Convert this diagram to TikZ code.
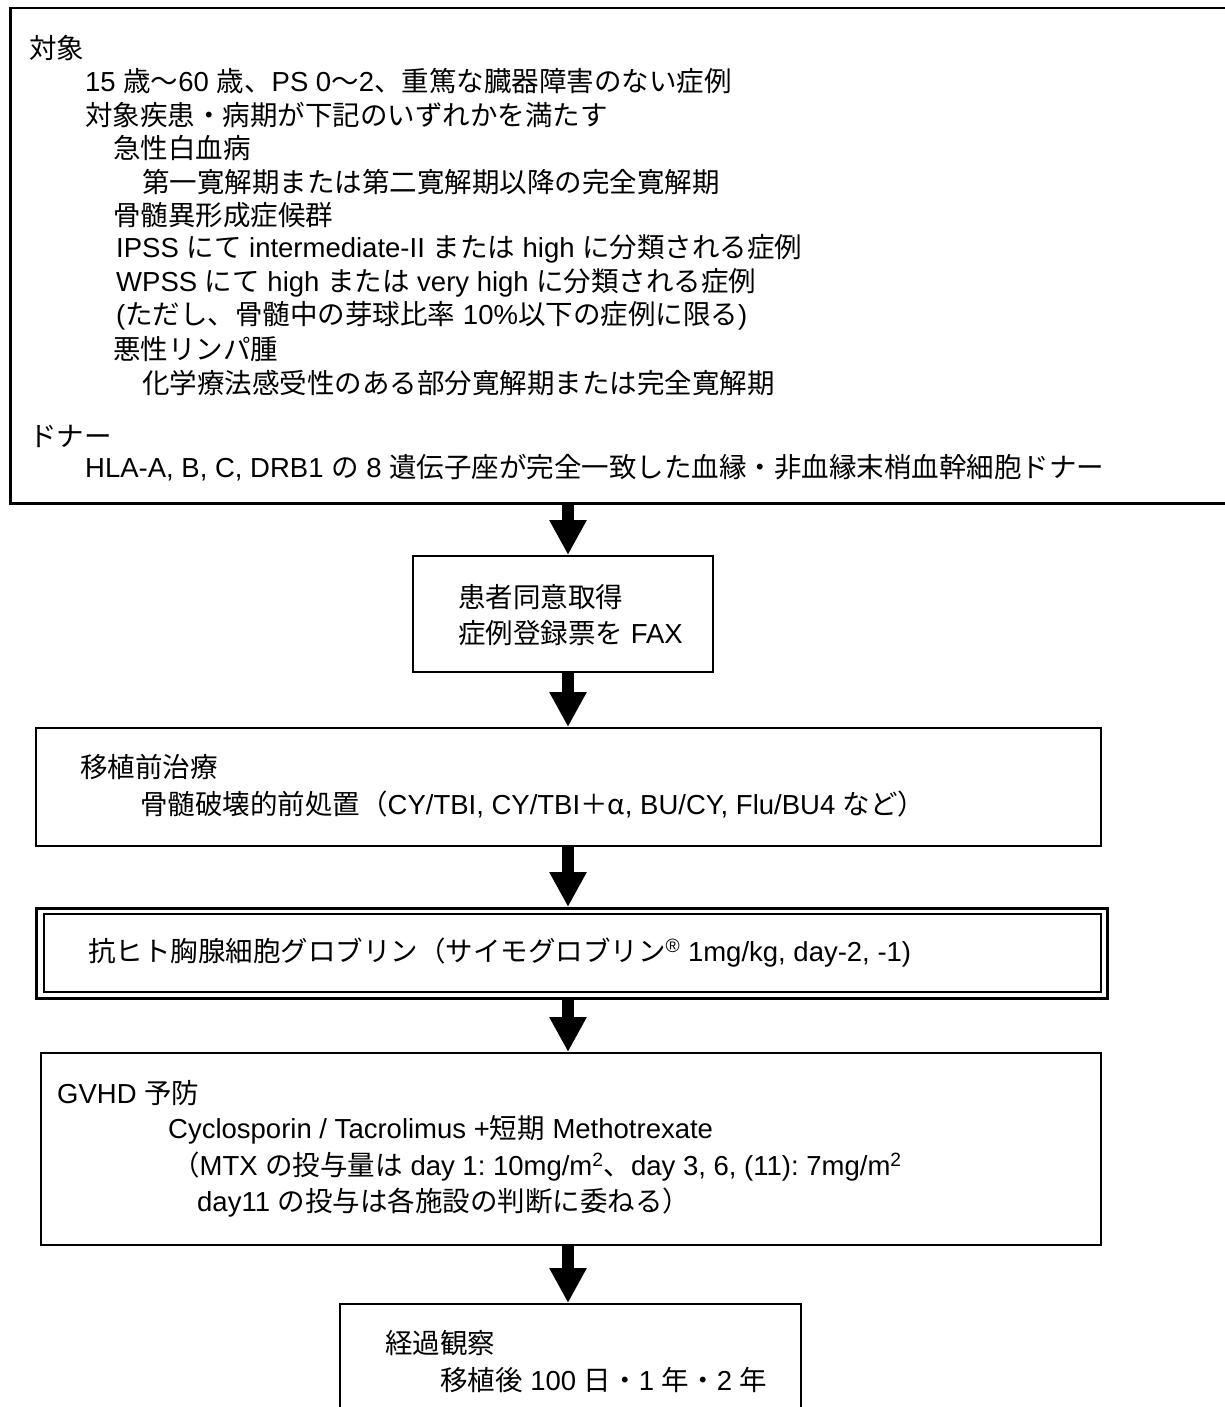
\documentclass[tikz,border=0pt]{standalone}
\usepackage{fontspec}
\usetikzlibrary{arrows.meta}
\setmainfont{Liberation Sans}
\newfontfamily\jfont{Noto Sans CJK JP}
\newfontfamily\lfont{Liberation Sans}
\XeTeXinterchartokenstate=1
\chardef\jclass=10
\newcount\jc
\def\setjrange#1#2{\jc=#1\relax\loop\XeTeXcharclass\jc=\jclass\advance\jc by 1\relax\ifnum\jc<#2\repeat}
\setjrange{"3000}{"3100}
\setjrange{"4E00}{"A000}
\setjrange{"FF00}{"FFF0}
\XeTeXcharclass"03B1=\jclass
\XeTeXinterchartoks 0 \jclass={\jfont}
\XeTeXinterchartoks 4095 \jclass={\jfont}
\XeTeXinterchartoks \jclass 0={\lfont}
\XeTeXinterchartoks \jclass 4095={\lfont}
\frenchspacing
\begin{document}
\begin{tikzpicture}[x=1pt,y=-1pt,
  font=\fontsize{27.5}{33}\selectfont\frenchspacing,
  box/.style={draw, line width=2pt, inner sep=0pt, anchor=north west},
  txt/.style={anchor=west, inner sep=0pt},
  arr/.style={line width=12pt, -{Triangle[width=35pt,length=35pt]}}]
\path[use as bounding box] (0,0) rectangle (1225,1407);
\clip (0,0) rectangle (1225,1407);
\fill[white] (0,0) rectangle (1225,1407);
\coordinate (ax) at (568,0);
% boxes
\node[box, line width=2.5pt, minimum width=1231pt, minimum height=495pt] (b1) at (9,7) {};
\node[box, minimum width=300pt, minimum height=116pt] (b2) at (412,555) {};
\node[box, minimum width=1065pt, minimum height=118pt] (b3) at (35,727) {};
\node[box, line width=3pt, minimum width=1071pt, minimum height=90pt] (b4) at (35,907) {};
\node[box, line width=1.5pt, minimum width=1057pt, minimum height=78pt] (b4i) at (43,913) {};
\node[box, line width=1.5pt, minimum width=1060pt, minimum height=192pt] (b5) at (40,1052) {};
\node[box, minimum width=461pt, minimum height=140pt] (b6) at (339,1303) {};
% arrows
\draw[arr] (b1.south -| ax) -- (b2.north -| ax);
\draw[arr] (b2.south -| ax) -- (b3.north -| ax);
\draw[arr] (b3.south -| ax) -- (b4.north -| ax);
\draw[arr] (b4.south -| ax) -- (b5.north -| ax);
\draw[arr] (b5.south -| ax) -- (b6.north -| ax);
% texts box 1
\node[txt] (t1) at (29,48) {対象};
\node[txt] (t2) at (85,81.5) {15 歳〜60 歳、PS 0〜2、重篤な臓器障害のない症例};
\node[txt] (t3) at (85,115) {対象疾患・病期が下記のいずれかを満たす};
\node[txt] (t4) at (113,148.5) {急性白血病};
\node[txt] (t5) at (142,182) {第一寛解期または第二寛解期以降の完全寛解期};
\node[txt] (t6) at (113,215.5) {骨髄異形成症候群};
\node[txt] (t7) at (116,249) {IPSS にて intermediate-II または high に分類される症例};
\node[txt] (t8) at (116,282.5) {WPSS にて high または very high に分類される症例};
\node[txt] (t9) at (116,316) {(ただし、骨髄中の芽球比率 10\%以下の症例に限る)};
\node[txt] (t10) at (113,349.5) {悪性リンパ腫};
\node[txt] (t11) at (142,383) {化学療法感受性のある部分寛解期または完全寛解期};
\node[txt] (t12) at (29,436) {ドナー};
\node[txt] (t13) at (85,468) {HLA-A, B, C, DRB1 の 8 遺伝子座が完全一致した血縁・非血縁末梢血幹細胞ドナー};
% box 2
\node[txt] (u1) at (458,597) {患者同意取得};
\node[txt] (u2) at (458,633) {症例登録票を FAX};
% box 3
\node[txt] (v1) at (80,767) {移植前治療};
\node[txt] (v2) at (140,804) {骨髄破壊的前処置（CY/TBI, CY/TBI＋α, BU/CY, Flu/BU4 など）};
% box 4
\node[txt] (w1) at (88,953) {抗ヒト胸腺細胞グロブリン（サイモグロブリン\textsuperscript{®} 1mg/kg, day-2, -1)};
% box 5
\node[txt] (x1) at (57,1093) {GVHD 予防};
\node[txt] (x2) at (168,1130) {Cyclosporin / Tacrolimus +短期 Methotrexate};
\node[txt] (x3) at (172,1167) {（MTX の投与量は day 1: 10mg/m\textsuperscript{2}、day 3, 6, (11): 7mg/m\textsuperscript{2}};
\node[txt] (x4) at (197,1203) {day11 の投与は各施設の判断に委ねる）};
% box 6
\node[txt] (y1) at (385,1343) {経過観察};
\node[txt] (y2) at (440,1380) {移植後 100 日・1 年・2 年};
\end{tikzpicture}
\end{document}
